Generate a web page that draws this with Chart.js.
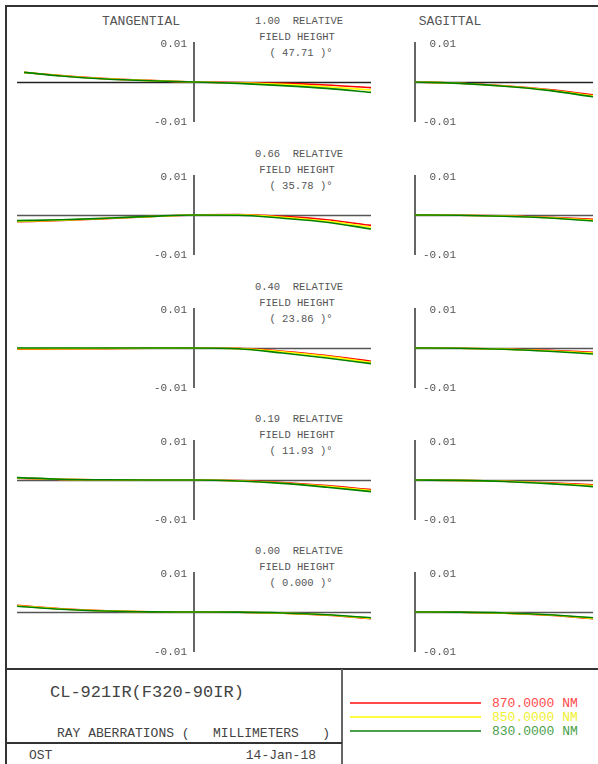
<!DOCTYPE html>
<html>
<head>
<meta charset="utf-8">
<script src="https://cdn.jsdelivr.net/npm/chart.js@4.4.1/dist/chart.umd.min.js"></script>
<style>
  html, body { margin: 0; padding: 0; background: #fff; }
  #page { position: relative; width: 598px; height: 764px; overflow: hidden; background: #fff; }
  #page canvas { position: absolute; }
  .txt { position: absolute; font-family: "Liberation Mono", "DejaVu Sans Mono", monospace; color: #555; white-space: pre; line-height: 1; }
  .rule { position: absolute; }
</style>
</head>
<body>
<div id="page"></div>
<script>
// ray fan plot: 5 field heights, tangential + sagittal, three wavelengths

const FIELDS = ['1.00', '0.66', '0.40', '0.19', '0.00'];
const ANGLES = ['47.71', '35.78', '23.86', '11.93', '0.000'];
const WAVES = ['870.0000 NM', '850.0000 NM', '830.0000 NM'];
const TICK_LABELS = ['0.01', '-0.01'];
const Y_MAX = 0.01;

// relative pupil coordinate
const PUPIL_T = [-1, -0.75, -0.5, -0.25, 0, 0.25, 0.5, 0.75, 1];
const PUPIL_S = [0, 0.25, 0.5, 0.75, 1];
const T_START = [-0.96, -1, -1, -1, -1]; // first pupil coord per field (vignetted top field)

// tangential fan, ey in mm
const TAN_RED = [
  [0.0024, 0.0016, 0.00085, 0.0004, 0, -0.00015, -0.00035, -0.00075, -0.0014],
  [-0.0017, -0.00135, -0.0009, -0.0004, 0, 0.0001, -0.00035, -0.0012, -0.0026],
  [-0.0003, -0.00025, -0.00015, -0.00005, 0, -0.0001, -0.0008, -0.0019, -0.0033],
  [0.00045, 0.00015, 0.00005, 0, 0, -0.00015, -0.00065, -0.0014, -0.0024],
  [0.00165, 0.0008, 0.0003, 0.00005, 0, -0.00005, -0.0003, -0.0008, -0.00165]
];
const TAN_YEL = [
  [0.0024, 0.00155, 0.0008, 0.00035, 0, -0.00025, -0.0006, -0.0012, -0.002],
  [-0.0016, -0.0013, -0.00085, -0.0004, 0, 0.00005, -0.00055, -0.0015, -0.00305],
  [-0.0002, -0.00015, -0.0001, -0.00005, 0, -0.00015, -0.00095, -0.0021, -0.0036],
  [0.0005, 0.00015, 0.00005, 0, 0, -0.0002, -0.00075, -0.0016, -0.00265],
  [0.00155, 0.00075, 0.00028, 0.00005, 0, -0.00005, -0.00028, -0.00075, -0.00155]
];
const TAN_GRN = [
  [0.0024, 0.0015, 0.00075, 0.0003, 0, -0.00035, -0.0009, -0.0016, -0.0026],
  [-0.0014, -0.0012, -0.0008, -0.00035, 0, -0.00005, -0.0008, -0.0018, -0.0035],
  [0, 0, 0, 0, 0, -0.0002, -0.00125, -0.0025, -0.0039],
  [0.0006, 0.0002, 0.00005, 0, 0, -0.00025, -0.00085, -0.0018, -0.0029],
  [0.00145, 0.0007, 0.00025, 0.00004, 0, -0.00004, -0.00025, -0.0007, -0.00145]
];

// sagittal fan, ex in mm
const SAG_RED = [
  [0, -0.0003, -0.00095, -0.0019, -0.0032],
  [0, -0.00005, -0.0002, -0.00055, -0.0011],
  [0, -0.00005, -0.00025, -0.0006, -0.00105],
  [0, -0.0001, -0.0003, -0.0007, -0.0012],
  [0, -0.00005, -0.0003, -0.0008, -0.00165]
];
const SAG_YEL = [
  [0, -0.0003, -0.001, -0.002, -0.00345],
  [0, -0.00005, -0.00025, -0.00065, -0.0013],
  [0, -0.00005, -0.00028, -0.0007, -0.00125],
  [0, -0.0001, -0.00033, -0.0008, -0.0014],
  [0, -0.00005, -0.00028, -0.00075, -0.00155]
];
const SAG_GRN = [
  [0, -0.00035, -0.00105, -0.0021, -0.0037],
  [0, -0.00005, -0.0003, -0.00075, -0.0015],
  [0, -0.00005, -0.0003, -0.0008, -0.0015],
  [0, -0.0001, -0.00036, -0.0009, -0.00165],
  [0, -0.00004, -0.00025, -0.0007, -0.00145]
];

const COLORS = ['#ff0000', '#ffff00', '#008000'];
const LEGEND_LINE = ['#ff4a4a', '#ffff40', '#4aa04a'];
const LEGEND_TEXT = ['#ff4a4a', '#f0f030', '#4aa04a'];
const ZERO_Y = [82, 215, 348, 480, 612];

const page = document.getElementById('page');

function text(str, x, y, size, align, color) {
  const d = document.createElement('div');
  d.className = 'txt';
  d.textContent = str;
  d.style.fontSize = size + 'px';
  d.style.top = y + 'px';
  d.style.left = x + 'px';
  const tx = align === 'center' ? '-50%' : align === 'right' ? '-100%' : '0';
  d.style.transform = `translate(${tx}, -50%)`;
  if (color) d.style.color = color;
  page.appendChild(d);
  return d;
}

function rule(x, y, w, h, color) {
  const d = document.createElement('div');
  d.className = 'rule';
  d.style.left = x + 'px';
  d.style.top = y + 'px';
  d.style.width = w + 'px';
  d.style.height = h + 'px';
  d.style.backgroundColor = color;
  page.appendChild(d);
}

// zero line, vertical axis and the +/-0.01 labels, placed from the scales
const fanAxes = {
  id: 'fanAxes',
  beforeDatasetsDraw(chart, args, opts) {
    const { ctx, chartArea, scales: { x, y } } = chart;
    const y0 = Math.round(y.getPixelForValue(0)) + 0.5;
    const x0 = Math.round(x.getPixelForValue(0));
    const yTop = y.getPixelForValue(Y_MAX);
    const yBot = y.getPixelForValue(-Y_MAX);
    ctx.save();
    ctx.strokeStyle = opts.zeroColor;
    ctx.lineWidth = 1.3;
    ctx.beginPath();
    ctx.moveTo(chartArea.left, y0);
    ctx.lineTo(chartArea.right, y0);
    ctx.stroke();
    ctx.strokeStyle = '#666';
    ctx.lineWidth = 2;
    ctx.beginPath();
    ctx.moveTo(x0, yTop);
    ctx.lineTo(x0, yBot);
    ctx.stroke();
    ctx.font = '11px "Liberation Mono", monospace';
    ctx.fillStyle = '#555';
    ctx.textAlign = 'right';
    ctx.textBaseline = 'middle';
    ctx.fillText(TICK_LABELS[0], x0 + opts.labelDx, yTop + 2);
    ctx.fillText(TICK_LABELS[1], x0 + opts.labelDx, yBot);
    ctx.restore();
  }
};

function makePanel(row, sagittal) {
  const xs = sagittal ? PUPIL_S : PUPIL_T.map((p, i) => (i === 0 ? T_START[row] : p));
  const series = sagittal ? [SAG_RED, SAG_YEL, SAG_GRN] : [TAN_RED, TAN_YEL, TAN_GRN];

  const canvas = document.createElement('canvas');
  const left = sagittal ? 405 : 7;
  const width = sagittal ? 193 : 374;
  canvas.width = width;
  canvas.height = 100;
  canvas.style.left = left + 'px';
  canvas.style.top = (ZERO_Y[row] - 50) + 'px';
  canvas.style.width = width + 'px';
  canvas.style.height = '100px';
  page.appendChild(canvas);

  new Chart(canvas, {
    type: 'line',
    data: {
      datasets: series.map((s, i) => ({
        label: WAVES[i],
        data: s[row].map((v, j) => ({ x: xs[j], y: v })),
        borderColor: COLORS[i],
        borderWidth: 1.6,
        pointRadius: 0,
        cubicInterpolationMode: 'monotone',
        fill: false,
        clip: false,
        order: 2 - i
      }))
    },
    options: {
      responsive: false,
      animation: false,
      devicePixelRatio: 1,
      layout: { padding: { left: 10, right: sagittal ? 5 : 10, top: 10, bottom: 10 } },
      plugins: {
        legend: { display: false },
        tooltip: { enabled: false },
        fanAxes: { labelDx: sagittal ? 41 : -7, zeroColor: row === 0 ? '#222' : '#555' }
      },
      scales: {
        x: { type: 'linear', min: sagittal ? 0 : -1, max: 1, display: false },
        y: { type: 'linear', min: -Y_MAX, max: Y_MAX, display: false }
      }
    },
    plugins: [fanAxes]
  });
}

// frame
rule(5, 5, 593, 2, '#333');
rule(5, 5, 2, 759, '#333');

// column headers
text('TANGENTIAL', 141, 21, 13, 'center');
text('SAGITTAL', 450, 21, 13, 'center');

FIELDS.forEach((f, row) => {
  const z = ZERO_Y[row];
  text(f + '  RELATIVE', 299, z - 61, 10.5, 'center');
  text('FIELD HEIGHT', 297, z - 45, 10.5, 'center');
  text('( ' + ANGLES[row] + ' )\u00b0', 301, z - 29, 10.5, 'center');
  makePanel(row, false);
  makePanel(row, true);
});

// title block
rule(5, 668, 593, 2, '#333');
rule(341, 669, 2, 95, '#666');
rule(5, 742, 337, 2, '#333');
text('CL-921IR(F320-90IR)', 50, 692, 17, 'left', '#444');
text('RAY ABERRATIONS (   MILLIMETERS   )', 57, 733, 13, 'left', '#444');
text('OST', 29, 755, 13, 'left', '#444');
text('14-Jan-18', 316, 755, 13, 'right', '#444');

const LEGEND_Y = [702, 716, 730];
WAVES.forEach((w, i) => {
  rule(350, LEGEND_Y[i], 131, 1.5, LEGEND_LINE[i]);
  text(w, 492, LEGEND_Y[i] + 1, 13, 'left', LEGEND_TEXT[i]);
});
</script>
</body>
</html>
